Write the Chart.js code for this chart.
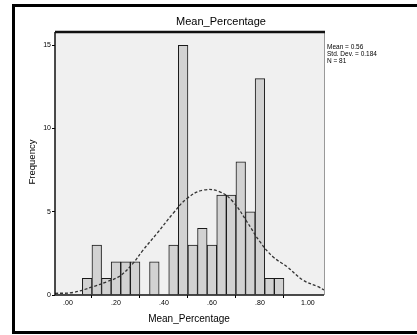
<!DOCTYPE html>
<html>
<head>
<meta charset="utf-8">
<script src="https://cdn.jsdelivr.net/npm/chart.js@4"></script>
<style>
  body { margin: 0; overflow: hidden; background: #fff; }
  #frame { position: absolute; left: 12px; top: 4px; width: 500px; height: 330px;
           border: 3px solid #000; box-sizing: border-box; }
  #myChart { position: absolute; left: 0; top: 0; }
</style>
</head>
<body>
<div id="frame"></div>
<canvas id="myChart" width="417" height="335"></canvas>
<script>
// histogram bins (bin centre) and counts
const binCenters = [0.08, 0.12, 0.16, 0.20, 0.24, 0.28, 0.32, 0.36, 0.40, 0.44, 0.48,
                    0.52, 0.56, 0.60, 0.64, 0.68, 0.72, 0.76, 0.80, 0.84, 0.88];
const frequencies = [1, 3, 1, 2, 2, 2, 0, 2, 0, 3, 15, 3, 4, 3, 6, 6, 8, 5, 13, 1, 1];

// normal curve, points
const curveX = [-0.054, 0.021, 0.104, 0.163, 0.217, 0.271, 0.313, 0.371, 0.438, 0.496,
                0.563, 0.633, 0.688, 0.746, 0.800, 0.854, 0.913, 0.979, 1.042, 1.067];
const curveY = [0.1, 0.15, 0.5, 0.8, 1.15, 1.9, 2.7, 3.7, 4.9, 5.8,
                6.3, 6.2, 5.6, 4.4, 3.2, 2.3, 1.7, 0.9, 0.5, 0.3];

const xTicks = [0, 0.2, 0.4, 0.6, 0.8, 1.0];
const xTickLabels = ['.00', '.20', '.40', '.60', '.80', '1.00'];
const yTicks = [0, 5, 10, 15];

const statsLines = ['Mean = 0.56', 'Std. Dev. = 0.184', 'N = 81'];

const font = 'Liberation Sans, Arial, sans-serif';

// plot background, plot border and the extra texts
const spssLook = {
  id: 'spssLook',
  beforeDraw(chart) {
    const {ctx, chartArea: a} = chart;
    ctx.save();
    ctx.fillStyle = '#f0f0f0';
    ctx.fillRect(a.left, a.top, a.right - a.left, a.bottom - a.top);
    ctx.restore();
  },
  afterDraw(chart) {
    const {ctx, chartArea: a} = chart;
    ctx.save();
    // plot frame
    ctx.strokeStyle = '#999';
    ctx.lineWidth = 1;
    ctx.beginPath();
    ctx.moveTo(a.right + 0.5, a.top);
    ctx.lineTo(a.right + 0.5, a.bottom);
    ctx.stroke();
    ctx.strokeStyle = '#111';
    ctx.lineWidth = 1.5;
    ctx.beginPath();
    ctx.moveTo(a.left, a.top);
    ctx.lineTo(a.left, a.bottom);
    ctx.lineTo(a.right, a.bottom);
    ctx.stroke();
    ctx.lineWidth = 2.5;
    ctx.beginPath();
    ctx.moveTo(a.left, a.top);
    ctx.lineTo(a.right + 1, a.top);
    ctx.stroke();

    ctx.fillStyle = '#000';
    ctx.textBaseline = 'middle';
    // title
    ctx.textAlign = 'center';
    ctx.font = '11px ' + font;
    ctx.fillText('Mean_Percentage', 221, 22);
    // x axis title
    ctx.font = '10px ' + font;
    ctx.fillText('Mean_Percentage', 189, 319);
    // y axis title
    ctx.save();
    ctx.translate(32, 162);
    ctx.rotate(-Math.PI / 2);
    ctx.font = '9.5px ' + font;
    ctx.fillText('Frequency', 0, 0);
    ctx.restore();
    // stats box
    ctx.textAlign = 'left';
    ctx.font = '6.5px ' + font;
    statsLines.forEach((t, i) => ctx.fillText(t, 327, 47 + i * 7));
    ctx.restore();
  }
};

const myChart = document.getElementById('myChart');

let histChart = new Chart(myChart, {
  type: 'bar',
  data: {
    datasets: [
      {
        type: 'line',
        label: 'Normal',
        data: curveX.map((x, i) => ({x: x, y: curveY[i]})),
        borderColor: '#333',
        borderWidth: 1.3,
        borderDash: [3, 2],
        pointRadius: 0,
        tension: 0.4,
        fill: false,
        order: 0
      },
      {
        type: 'bar',
        label: 'Frequency',
        data: binCenters.map((x, i) => ({x: x, y: frequencies[i]})),
        backgroundColor: '#d2d2d2',
        borderColor: '#1a1a1a',
        borderWidth: 1,
        barPercentage: 1.0,
        categoryPercentage: 1.0,
        order: 1
      }
    ]
  },
  options: {
    responsive: false,
    animation: false,
    devicePixelRatio: 1,
    layout: { padding: { left: 0, top: 32, right: 93, bottom: 0 } },
    plugins: {
      legend: { display: false },
      tooltip: { enabled: false }
    },
    scales: {
      x: {
        type: 'linear',
        min: -0.054,
        max: 1.067,
        offset: false,
        border: { display: false },
        grid: { drawOnChartArea: false, drawTicks: true, tickLength: 3, color: '#000' },
        ticks: {
          color: '#000',
          padding: 1,
          maxRotation: 0,
          font: { family: font, size: 7 },
          callback: (value, index) => xTickLabels[index]
        },
        afterBuildTicks: scale => { scale.ticks = xTicks.map(v => ({value: v})); },
        afterFit: scale => { scale.height = 40; }
      },
      y: {
        min: 0,
        max: 15.8,
        border: { display: false },
        grid: { drawOnChartArea: false, drawTicks: true, tickLength: 3, color: '#000' },
        ticks: {
          color: '#000',
          padding: 1,
          font: { family: font, size: 7 }
        },
        afterBuildTicks: scale => { scale.ticks = yTicks.map(v => ({value: v})); },
        afterFit: scale => { scale.width = 55; }
      }
    }
  },
  plugins: [spssLook]
});
</script>
</body>
</html>
